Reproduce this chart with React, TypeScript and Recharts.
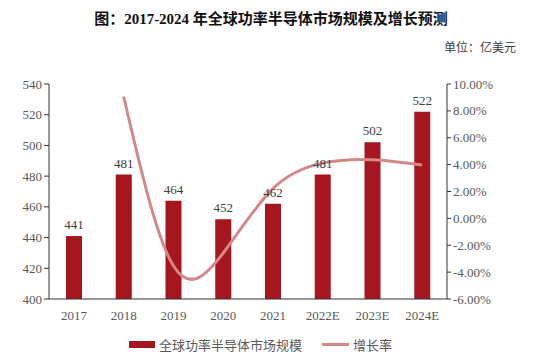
import { ComposedChart, Bar, Line, XAxis, YAxis, LabelList } from 'recharts';

const years = ['2017', '2018', '2019', '2020', '2021', '2022E', '2023E', '2024E'];
const marketSize = [441, 481, 464, 452, 462, 481, 502, 522];
const growthRate = [null, 0.0907, -0.0353, -0.0259, 0.0221, 0.0411, 0.0437, 0.0398];
const leftTicks = [400, 420, 440, 460, 480, 500, 520, 540];
const rightTicks = [-0.06, -0.04, -0.02, 0, 0.02, 0.04, 0.06, 0.08, 0.1];

const BAR = '#A5161E';
const LINE = '#D48888';
const FONT = '"Liberation Serif", "Times New Roman", "Noto Sans CJK SC", serif';

const data = years.map((y, i) => ({ year: y, size: marketSize[i], rate: growthRate[i] }));

export default function App() {
  const tick = { fill: '#595959', fontSize: 13, fontFamily: FONT };
  return (
    <div style={{ position: 'absolute', left: 0, top: 0, width: 542, height: 359, background: '#fff', fontFamily: FONT }}>
      <div style={{ position: 'absolute', top: 7, left: 0, width: 542, textAlign: 'center', fontSize: 15, fontWeight: 'bold', color: '#111' }}>
        图：2017-2024 年全球功率半导体市场规模及增长预测
      </div>
      <div style={{ position: 'absolute', top: 38, right: 26, fontSize: 12, color: '#404040' }}>单位：亿美元</div>
      <ComposedChart width={542} height={359} data={data} margin={{ top: 84, right: 0, bottom: 30, left: 0 }}>
        <XAxis dataKey="year" height={30} tickLine={false} axisLine={{ stroke: '#333' }} tick={tick} dy={4} />
        <YAxis yAxisId="l" width={49} domain={[400, 540]} ticks={leftTicks} tickSize={5}
          axisLine={{ stroke: '#333' }} tickLine={{ stroke: '#333' }} tick={tick} />
        <YAxis yAxisId="r" orientation="right" width={95} domain={[-0.06, 0.1]} ticks={rightTicks} tickSize={4}
          axisLine={{ stroke: '#333' }} tickLine={{ stroke: '#333' }} tick={{ ...tick, textAnchor: 'start' }}
          tickFormatter={(v: number) => (v * 100).toFixed(2) + '%'} />
        <Bar yAxisId="l" dataKey="size" fill={BAR} barSize={16} isAnimationActive={false}>
          <LabelList dataKey="size" position="top" offset={7} fill="#404040" fontSize={13} fontFamily={FONT} />
        </Bar>
        <Line yAxisId="r" dataKey="rate" type="natural" stroke={LINE} strokeWidth={3} dot={false}
          connectNulls isAnimationActive={false} />
      </ComposedChart>
      <div style={{ position: 'absolute', top: 335, left: 129, display: 'flex', alignItems: 'center', fontSize: 13, color: '#595959' }}>
        <span style={{ display: 'inline-block', width: 26, height: 7, background: BAR, marginRight: 4 }} />
        <span>全球功率半导体市场规模</span>
        <span style={{ display: 'inline-block', width: 27, height: 3, background: LINE, marginLeft: 20, marginRight: 4 }} />
        <span>增长率</span>
      </div>
    </div>
  );
}
